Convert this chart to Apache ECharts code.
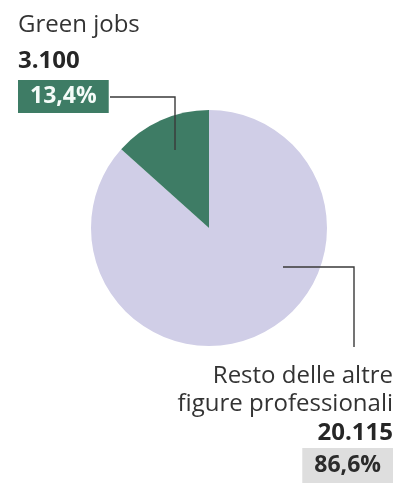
<!DOCTYPE html>
<html><head><meta charset="utf-8">
<script src="https://cdn.jsdelivr.net/npm/echarts@6/dist/echarts.min.js"></script>
<style>html,body{margin:0;padding:0;background:#fff}#c{width:400px;height:484px}</style>
</head><body><div id="c"></div>
<script>
var categories = ['Resto delle altre\nfigure professionali', 'Green jobs'];
var values = [20115, 3100];
var pctLabels = ['86,6%', '13,4%'];
var sliceColors = ['#d0cee7', '#3e7c65'];
var boxColors = ['#dedede', '#3e7c65'];
var pctColors = ['#2b2b2b', '#f4fbf8'];

function fmt(n){ return String(n).replace(/\B(?=(\d{3})+(?!\d))/g, '.'); }

var chart = echarts.init(document.getElementById('c'), null, {renderer:'canvas'});
var font = 'Open Sans';
var lineStyle = {stroke:'#3a3a3a', lineWidth:1.4, fill:null};
chart.setOption({
  animation:false,
  graphic:[
    {type:'polyline', z:100, shape:{points:[[110,97],[175,97],[175,150]]}, style:lineStyle, silent:true},
    {type:'polyline', z:100, shape:{points:[[283,267],[354,267],[354,347]]}, style:lineStyle, silent:true}
  ],
  series:[{
    type:'pie',
    center:[209,228],
    radius:[0,118],
    startAngle:90,
    clockwise:true,
    silent:true,
    data: categories.map(function(c,i){
      var al = i===1?'left':'right';
      return {
        name:c, value:values[i],
        itemStyle:{color:sliceColors[i]},
        label:{
          align: al,
          rich:{
            n:{fontFamily:font,fontSize:24,color:'#333',lineHeight:i===1?34:28,align:al},
            v:{fontFamily:font,fontSize:24,fontWeight:'bold',color:'#262626',lineHeight:i===1?38:30,align:al},
            p:{fontFamily:font,fontSize:23,fontWeight:'bold',color:pctColors[i],backgroundColor:boxColors[i],padding:i===1?[5,12,5,12]:[6,12,6,12],align:al}
          }
        }
      };
    }),
    label:{
      show:true,
      position:'outside',
      overflow:'none',
      formatter:function(p){
        var i = p.dataIndex;
        var lines = categories[i].split('\n').map(function(s){return '{n|'+s+'}';}).join('\n');
        return lines + '\n{v|' + fmt(values[i]) + '}\n{p|' + pctLabels[i] + '}';
      }
    },
    labelLine:{show:false},
    labelLayout:function(params){
      if(params.dataIndex===1){
        return {x:18, y:8, align:'left', verticalAlign:'top'};
      }
      return {x:393, y:362, align:'right', verticalAlign:'top'};
    }
  }]
});
</script></body></html>
